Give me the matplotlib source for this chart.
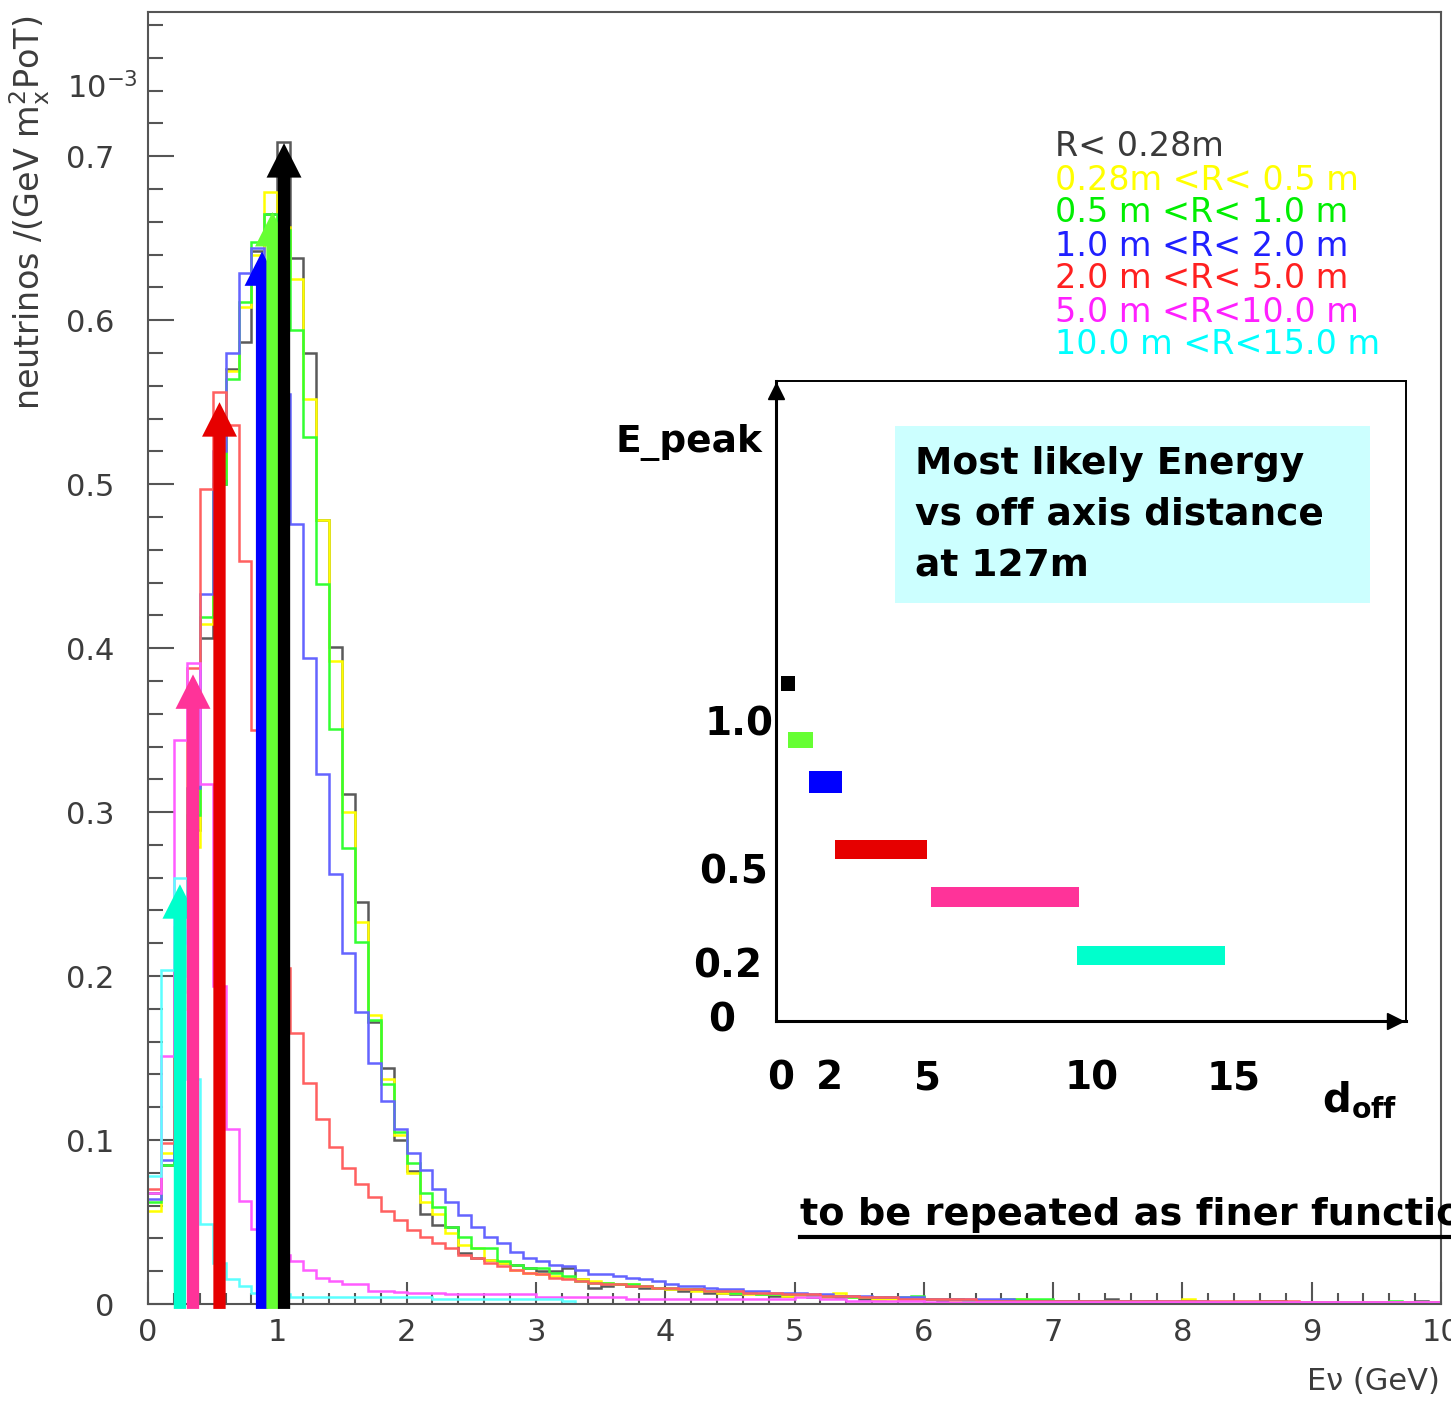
import numpy as np
import matplotlib
matplotlib.use("Agg")
import matplotlib.pyplot as plt
from matplotlib.ticker import MultipleLocator, FixedLocator, FixedFormatter
from matplotlib.patches import Rectangle
from matplotlib.lines import Line2D

plt.rcParams['font.family'] = ['DejaVu Sans']
plt.rcParams['mathtext.default'] = 'regular'

W, H = 1451, 1404

# ---- data: neutrino flux per 0.1 GeV bin (x 1e-3), 0..10 GeV ----
edges = np.linspace(0, 10, 101)

flux_black = [
    0.068, 0.085, 0.190, 0.289, 0.406, 0.500, 0.570, 0.587, 0.642, 0.665,
    0.709, 0.638, 0.580, 0.478, 0.401, 0.311, 0.245, 0.172, 0.144, 0.100,
    0.081, 0.055, 0.048, 0.047, 0.031, 0.028, 0.027, 0.025, 0.024, 0.022,
    0.020, 0.020, 0.022, 0.015, 0.010, 0.011, 0.012, 0.011, 0.010, 0.010,
    0.009, 0.008, 0.009, 0.007, 0.007, 0.006, 0.007, 0.006, 0.005, 0.005,
    0.005, 0.004, 0.004, 0.004, 0.005, 0.003, 0.003, 0.004, 0.003, 0.003,
    0.003, 0.002, 0.003, 0.002, 0.002, 0.002, 0.002, 0.002, 0.002, 0.002,
    0.002, 0.002, 0.002, 0.002, 0.003, 0.002, 0.001, 0.002, 0.001, 0.001,
    0.001, 0.001, 0.001, 0.001, 0.001, 0.001, 0.002, 0.002, 0.001, 0.001,
    0.001, 0.001, 0.001, 0.001, 0.001, 0.001, 0.001, 0.001, 0.002, 0.001]

flux_yellow = [
    0.057, 0.092, 0.180, 0.279, 0.415, 0.504, 0.569, 0.608, 0.640, 0.678,
    0.657, 0.625, 0.552, 0.478, 0.392, 0.300, 0.233, 0.176, 0.137, 0.103,
    0.080, 0.062, 0.055, 0.043, 0.036, 0.034, 0.027, 0.025, 0.021, 0.019,
    0.018, 0.017, 0.016, 0.015, 0.014, 0.013, 0.012, 0.012, 0.011, 0.010,
    0.009, 0.009, 0.008, 0.008, 0.007, 0.007, 0.006, 0.006, 0.006, 0.005,
    0.005, 0.005, 0.004, 0.007, 0.004, 0.004, 0.003, 0.003, 0.003, 0.003,
    0.003, 0.003, 0.002, 0.002, 0.002, 0.002, 0.002, 0.003, 0.002, 0.002,
    0.002, 0.002, 0.002, 0.002, 0.002, 0.002, 0.001, 0.001, 0.001, 0.001,
    0.003, 0.001, 0.001, 0.001, 0.001, 0.001, 0.001, 0.001, 0.001, 0.001,
    0.001, 0.001, 0.001, 0.001, 0.001, 0.001, 0.001, 0.001, 0.001, 0.001]

flux_green = [
    0.062, 0.085, 0.200, 0.298, 0.419, 0.500, 0.564, 0.611, 0.648, 0.665,
    0.655, 0.594, 0.529, 0.439, 0.351, 0.278, 0.221, 0.173, 0.134, 0.105,
    0.086, 0.068, 0.059, 0.047, 0.041, 0.034, 0.034, 0.026, 0.024, 0.022,
    0.022, 0.019, 0.017, 0.014, 0.013, 0.013, 0.012, 0.012, 0.011, 0.010,
    0.010, 0.009, 0.009, 0.008, 0.008, 0.007, 0.007, 0.006, 0.006, 0.006,
    0.006, 0.005, 0.005, 0.005, 0.004, 0.004, 0.004, 0.004, 0.004, 0.005,
    0.003, 0.003, 0.003, 0.002, 0.002, 0.002, 0.003, 0.003, 0.003, 0.003,
    0.002, 0.002, 0.002, 0.002, 0.002, 0.002, 0.002, 0.001, 0.001, 0.001,
    0.001, 0.001, 0.001, 0.001, 0.001, 0.001, 0.001, 0.001, 0.001, 0.001,
    0.001, 0.001, 0.001, 0.001, 0.001, 0.001, 0.002, 0.001, 0.001, 0.001]

flux_blue = [
    0.064, 0.088, 0.220, 0.315, 0.433, 0.520, 0.580, 0.629, 0.644, 0.625,
    0.555, 0.476, 0.394, 0.323, 0.262, 0.214, 0.178, 0.147, 0.124, 0.107,
    0.092, 0.082, 0.070, 0.062, 0.054, 0.047, 0.041, 0.037, 0.032, 0.028,
    0.026, 0.024, 0.023, 0.021, 0.018, 0.018, 0.017, 0.016, 0.015, 0.014,
    0.012, 0.011, 0.011, 0.010, 0.009, 0.009, 0.008, 0.008, 0.007, 0.007,
    0.007, 0.006, 0.006, 0.005, 0.005, 0.005, 0.004, 0.004, 0.004, 0.004,
    0.003, 0.003, 0.003, 0.003, 0.003, 0.003, 0.003, 0.002, 0.002, 0.002,
    0.002, 0.002, 0.002, 0.002, 0.002, 0.002, 0.002, 0.002, 0.002, 0.002,
    0.002, 0.002, 0.001, 0.001, 0.001, 0.001, 0.001, 0.001, 0.001, 0.001,
    0.001, 0.001, 0.001, 0.001, 0.001, 0.001, 0.001, 0.001, 0.001, 0.001]

flux_red = [
    0.070, 0.098, 0.230, 0.388, 0.497, 0.556, 0.536, 0.453, 0.350, 0.270,
    0.205, 0.165, 0.135, 0.113, 0.096, 0.083, 0.073, 0.065, 0.057, 0.051,
    0.045, 0.041, 0.037, 0.034, 0.030, 0.028, 0.025, 0.023, 0.021, 0.019,
    0.018, 0.016, 0.015, 0.014, 0.013, 0.012, 0.012, 0.011, 0.011, 0.010,
    0.010, 0.009, 0.009, 0.008, 0.008, 0.008, 0.007, 0.007, 0.007, 0.006,
    0.006, 0.006, 0.005, 0.005, 0.005, 0.004, 0.004, 0.004, 0.003, 0.003,
    0.003, 0.003, 0.003, 0.003, 0.002, 0.002, 0.002, 0.002, 0.002, 0.002,
    0.002, 0.002, 0.002, 0.002, 0.002, 0.002, 0.002, 0.002, 0.002, 0.002,
    0.002, 0.002, 0.002, 0.002, 0.002, 0.002, 0.002, 0.002, 0.002, 0.001,
    0.001, 0.001, 0.001, 0.001, 0.001, 0.001, 0.001, 0.001, 0.001, 0.001]

flux_magenta = [
    0.068, 0.151, 0.344, 0.391, 0.317, 0.194, 0.107, 0.063, 0.046, 0.036,
    0.030, 0.026, 0.021, 0.016, 0.014, 0.012, 0.012, 0.008, 0.008, 0.0075,
    0.0065, 0.0065, 0.0065, 0.006, 0.006, 0.006, 0.006, 0.006, 0.006, 0.006,
    0.004, 0.004, 0.004, 0.004, 0.004, 0.004, 0.004, 0.003, 0.003, 0.003,
    0.003, 0.003, 0.003, 0.003, 0.003, 0.003, 0.003, 0.003, 0.003, 0.003,
    0.004, 0.004, 0.003, 0.003, 0.002, 0.002, 0.002, 0.002, 0.002, 0.002,
    0.001, 0.001, 0.001, 0.001, 0.001, 0.001, 0.001, 0.001, 0.001, 0.001,
    0.001, 0.001, 0.001, 0.001, 0.001, 0.001, 0.001, 0.001, 0.001, 0.001,
    0.001, 0.001, 0.001, 0.001, 0.001, 0.001, 0.001, 0.001, 0.001, 0.001,
    0.001, 0.001, 0.001, 0.001, 0.001, 0.001, 0.001, 0.001, 0.001, 0.001]

flux_cyan = [
    0.078, 0.204, 0.260, 0.137, 0.049, 0.025, 0.015, 0.011, 0.007, 0.006,
    0.006, 0.0045, 0.004, 0.004, 0.004, 0.004, 0.004, 0.004, 0.004, 0.004,
    0.004, 0.004, 0.003, 0.003, 0.003, 0.003, 0.003, 0.003, 0.003, 0.003,
    0.003, 0.003, 0.002, 0.0, 0.0, 0.0, 0.0, 0.0, 0.0, 0.0,
    0.0, 0.0, 0.0, 0.0, 0.0, 0.0, 0.0, 0.0, 0.0, 0.0,
    0.0, 0.0, 0.0, 0.0, 0.0, 0.0, 0.0, 0.0, 0.0, 0.0,
    0.0, 0.0, 0.0, 0.0, 0.0, 0.0, 0.0, 0.0, 0.0, 0.0,
    0.0, 0.0, 0.0, 0.0, 0.0, 0.0, 0.0, 0.0, 0.0, 0.0,
    0.0, 0.0, 0.0, 0.0, 0.0, 0.0, 0.0, 0.0, 0.0, 0.0,
    0.0, 0.0, 0.0, 0.0, 0.0, 0.0, 0.0, 0.0, 0.0, 0.0]

series = [flux_black, flux_yellow, flux_green, flux_blue, flux_red, flux_magenta, flux_cyan]
line_colors = ['#5a5a5a', '#ffff00', '#33ff33', '#6464ff', '#ff6060', '#ff5cff', '#5cffff']
legend_labels = ['R< 0.28m', '0.28m <R< 0.5 m', '0.5 m <R< 1.0 m', '1.0 m <R< 2.0 m',
                 '2.0 m <R< 5.0 m', '5.0 m <R<10.0 m', '10.0 m <R<15.0 m']
legend_colors = ['#3a3a3a', '#ffff00', '#00ee00', '#2020ff', '#ff2020', '#ff20ff', '#00ffff']

# peak arrows (E in GeV, height x 1e-3)
arrow_E = [0.247, 0.348, 0.553, 0.882, 0.963, 1.052]
arrow_top = [0.256, 0.384, 0.550, 0.642, 0.666, 0.708]
arrow_colors = ['#00ffcc', '#ff3399', '#e60000', '#0000ff', '#66ff33', '#000000']

# inset: most likely energy vs off-axis distance
inset_E = [1.135, 0.946, 0.805, 0.577, 0.418, 0.221]
inset_d_lo = [0.15, 0.40, 1.08, 1.93, 5.08, 9.87]
inset_d_hi = [0.62, 1.21, 2.16, 4.95, 9.93, 14.72]
inset_h = [0.05, 0.054, 0.074, 0.064, 0.067, 0.064]


def fx(px):
    return px / W


def fy(py):
    return 1 - py / H


fig = plt.figure(figsize=(W / 100, H / 100), dpi=100)
ax = fig.add_axes([fx(148), fy(1304), (1441 - 148) / W, (1304 - 12) / H])

for vals, c in zip(series, line_colors):
    ax.stairs(vals, edges, color=c, lw=1.8, baseline=None, zorder=2)

for e, t, c in zip(arrow_E, arrow_top, arrow_colors):
    ax.arrow(e, -0.003, 0, t + 0.003, width=0.095, head_width=0.27, head_length=0.021,
             length_includes_head=True, color=c, zorder=5, clip_on=False, lw=0)

ax.set_xlim(0, 10)
ax.set_ylim(0, 0.788)
gray = '#3c3c3c'
for s in ax.spines.values():
    s.set_color('#555555')
    s.set_linewidth(1.5)
ax.xaxis.set_major_locator(MultipleLocator(1))
ax.xaxis.set_minor_locator(MultipleLocator(0.2))
ax.yaxis.set_major_locator(FixedLocator([0, 0.1, 0.2, 0.3, 0.4, 0.5, 0.6, 0.7]))
ax.yaxis.set_major_formatter(FixedFormatter(['0', '0.1', '0.2', '0.3', '0.4', '0.5', '0.6', '0.7']))
ax.yaxis.set_minor_locator(MultipleLocator(0.02))
ax.tick_params(axis='x', which='major', direction='in', length=16, width=1.5, colors='#555555',
               labelcolor=gray, labelsize=22, pad=10)
ax.tick_params(axis='x', which='minor', direction='in', length=8, width=1.5, colors='#555555')
ax.tick_params(axis='y', which='major', direction='in', length=19, width=1.5, colors='#555555',
               labelcolor=gray, labelsize=22, pad=24)
ax.tick_params(axis='y', which='minor', direction='in', length=11, width=1.5, colors='#555555')

fig.text(fx(67), fy(88), r'10$^{-3}$', fontsize=22, color=gray, va='center', ha='left')
fig.text(fx(30), fy(213), r'neutrinos /(GeV m$^{2}_{x}$PoT)', fontsize=24, color=gray,
         rotation=90, ha='center', va='center')
fig.text(fx(1440), fy(1382), 'Eν (GeV)', fontsize=22, color=gray, ha='right', va='center')

for i, (lab, c) in enumerate(zip(legend_labels, legend_colors)):
    fig.text(fx(1055), fy(147 + 33 * i), lab, fontsize=24, color=c, ha='left', va='center')

# ---- inset ----
ax2 = fig.add_axes([fx(776), fy(1021), 630 / W, 640 / H])
ax2.set_xlim(0, 20.66)
ax2.set_ylim(0, 2.155)
ax2.set_xticks([])
ax2.set_yticks([])
ax2.patch.set_alpha(0)
for side in ['left', 'bottom']:
    ax2.spines[side].set_linewidth(2.2)
for side in ['top', 'right']:
    ax2.spines[side].set_linewidth(1.4)
ax2.plot([0], [2.12], marker='^', ms=11, color='k', clip_on=False)
ax2.plot([20.3], [0], marker='>', ms=11, color='k', clip_on=False)

for e, lo, hi, h, c in zip(inset_E, inset_d_lo, inset_d_hi, inset_h, arrow_colors[::-1]):
    ax2.barh(e, hi - lo, left=lo, height=h, color=c, lw=0)

ax2.add_patch(Rectangle(((895 - 776) / 630, (1021 - 603) / 640), 475 / 630, 177 / 640,
                        transform=ax2.transAxes, color='#ccffff', lw=0, zorder=0))
box_lines = ['Most likely Energy', 'vs off axis distance', 'at 127m']
for i, t in enumerate(box_lines):
    fig.text(fx(915), fy(464 + 51 * i), t, fontsize=27, fontweight='bold', ha='left', va='center')

fig.text(fx(689), fy(442), 'E_peak', ha='center', va='center', fontsize=27, fontweight='bold')
num = dict(fontsize=28, fontweight='bold', va='center', ha='center')
for lab, xc, yc in [('1.0', 739, 724), ('0.5', 734, 873), ('0.2', 728, 966), ('0', 722, 1020)]:
    fig.text(fx(xc), fy(yc), lab, **num)
for lab, xc in [('0', 781), ('2', 829), ('5', 928), ('10', 1092), ('15', 1234)]:
    fig.text(fx(xc), fy(1078), lab, **num)
fig.text(fx(1360), fy(1100), r'$\mathbf{d_{off}}$', fontsize=29, ha='center', va='center')

fig.text(fx(800), fy(1215), 'to be repeated as finer function of R', ha='left', va='center',
         fontsize=27.5, fontweight='bold')
fig.add_artist(Line2D([fx(800), 1.0], [fy(1237), fy(1237)], color='k', lw=3))

fig.savefig('out.png', dpi=100)
